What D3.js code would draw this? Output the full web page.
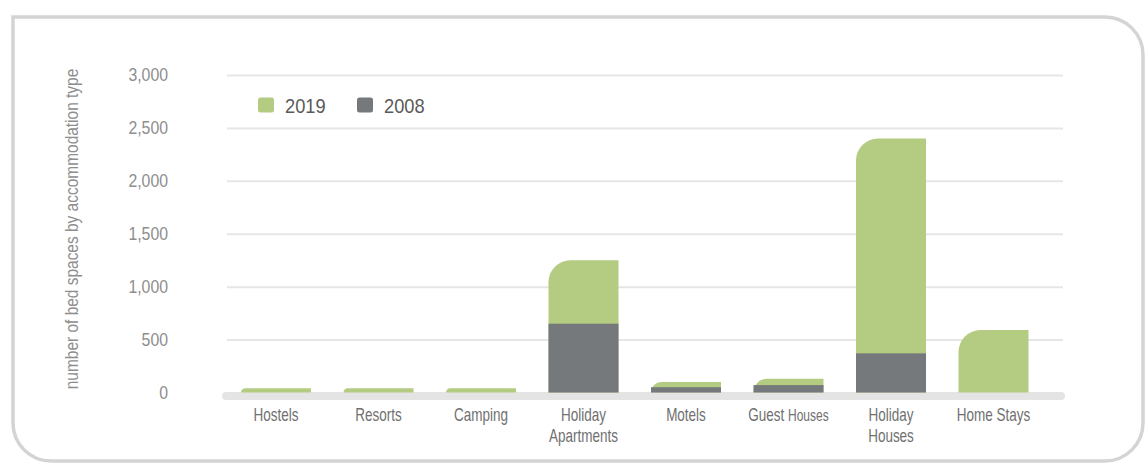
<!DOCTYPE html>
<html>
<head>
<meta charset="utf-8">
<script src="https://cdn.jsdelivr.net/npm/d3@7"></script>
<style>
  html, body { margin: 0; padding: 0; background: #fff; }
  svg { display: block; }
  text { font-family: "Liberation Sans", Arial, sans-serif; }
</style>
</head>
<body>
<svg id="chart" width="1145" height="463"></svg>
<script>
// Bed spaces by accommodation type, 2019 vs 2008
const categories = ["Hostels", "Resorts", "Camping", "Holiday Apartments", "Motels", "Guest Houses", "Holiday Houses", "Home Stays"];
const categoryLines = [["Hostels"], ["Resorts"], ["Camping"], ["Holiday", "Apartments"], ["Motels"], ["Guest Houses"], ["Holiday", "Houses"], ["Home Stays"]];
const beds2019 = [40, 40, 40, 1250, 100, 130, 2400, 590];
const beds2008 = [0, 0, 0, 650, 50, 70, 370, 0];
const seriesNames = ["2019", "2008"];
const yTicks = [0, 500, 1000, 1500, 2000, 2500, 3000];
const yTitle = "number of bed spaces by accommodation type";

const colors = { "2019": "#b4cb82", "2008": "#76797b" };

// horizontal squeeze giving the condensed lettering
const squeeze = { tick: 0.88, cat: 0.75, title: 0.86, legend: 0.87 };

const svg = d3.select("#chart");

// Frame: square top-left corner, rounded elsewhere
const fx0 = 13, fy0 = 17, fx1 = 1143, fy1 = 461, fr = 38;
svg.append("path")
  .attr("d", `M${fx0},${fy0}H${fx1 - fr}A${fr},${fr} 0 0 1 ${fx1},${fy0 + fr}V${fy1 - fr}A${fr},${fr} 0 0 1 ${fx1 - fr},${fy1}H${fx0 + fr}A${fr},${fr} 0 0 1 ${fx0},${fy1 - fr}Z`)
  .attr("fill", "none")
  .attr("stroke", "#d4d4d4")
  .attr("stroke-width", 3.5);

const plotLeft = 227, plotRight = 1063;

const x = d3.scaleBand()
  .domain(categories)
  .range([224.75, 1044.75])
  .paddingInner(0.317)
  .paddingOuter(0.1585);

const y = d3.scaleLinear()
  .domain([0, 3000])
  .range([392.5, 75]);

// Y axis with gridlines
const labelGap = 59;
const yAxis = d3.axisLeft(y)
  .tickValues(yTicks)
  .tickFormat(d3.format(","))
  .tickSizeInner(-(plotRight - plotLeft))
  .tickSizeOuter(0)
  .tickPadding(labelGap);

const gy = svg.append("g")
  .attr("transform", `translate(${plotLeft},0)`)
  .call(yAxis);
gy.select(".domain").remove();
gy.selectAll(".tick line")
  .attr("stroke", "#e6e6e6")
  .attr("stroke-width", 2)
  .attr("opacity", d => d === 0 ? 0 : 1);
gy.selectAll(".tick text")
  .attr("fill", "#8e8e8e")
  .attr("font-size", 18)
  .style("font-family", "'Liberation Sans', Arial, sans-serif")
  .attr("x", -labelGap / squeeze.tick)
  .attr("transform", `scale(${squeeze.tick},1)`);

// Baseline band
svg.append("rect")
  .attr("x", 222)
  .attr("y", y(0) - 0.5)
  .attr("width", 1065 - 222)
  .attr("height", 8)
  .attr("rx", 4)
  .attr("fill", "#e4e4e4");

// Bar with rounded top-left corner
function barPath(x0, top, w, h, r) {
  const b = top + h;
  r = Math.max(0, Math.min(r, h, w));
  if (h <= 0) return "";
  return `M${x0},${b}V${top + r}A${r},${r} 0 0 1 ${x0 + r},${top}H${x0 + w}V${b}Z`;
}

const data = categories.map((c, i) => ({ cat: c, v2019: beds2019[i], v2008: beds2008[i] }));

svg.append("g").selectAll("path")
  .data(data)
  .join("path")
  .attr("d", d => barPath(x(d.cat), y(d.v2019), x.bandwidth(), y(0) - y(d.v2019), 22))
  .attr("fill", colors["2019"]);

svg.append("g").selectAll("rect")
  .data(data.filter(d => d.v2008 > 0))
  .join("rect")
  .attr("x", d => x(d.cat))
  .attr("y", d => y(d.v2008))
  .attr("width", x.bandwidth())
  .attr("height", d => y(0) - y(d.v2008))
  .attr("fill", colors["2008"]);

// Category labels
const catG = svg.append("g");
categoryLines.forEach((lines, i) => {
  const cx = x(categories[i]) + x.bandwidth() / 2;
  const t = catG.append("g")
    .attr("transform", `translate(${cx},421) scale(${squeeze.cat},1)`)
    .append("text")
    .attr("text-anchor", "middle")
    .attr("fill", "#707070")
    .attr("font-size", 18);
  lines.forEach((ln, j) => {
    const ts = t.append("tspan").attr("x", 0).attr("dy", j === 0 ? 0 : 21);
    if (ln === "Guest Houses") {
      ts.append("tspan").text("Guest ");
      ts.append("tspan").attr("font-size", 16).text("Houses");
    } else {
      ts.text(ln);
    }
  });
});

// Y axis title
svg.append("text")
  .attr("transform", `translate(78,229) rotate(-90) scale(${squeeze.title},1)`)
  .attr("text-anchor", "middle")
  .attr("fill", "#8e8e8e")
  .attr("font-size", 18)
  .text(yTitle);

// Legend
const legendX = [258, 357];
const lg = svg.append("g");
seriesNames.forEach((s, i) => {
  lg.append("rect")
    .attr("x", legendX[i])
    .attr("y", 97.5)
    .attr("width", 16)
    .attr("height", 15)
    .attr("rx", 2.5)
    .attr("fill", colors[s]);
  lg.append("text")
    .attr("transform", `translate(${legendX[i] + 27},113) scale(${squeeze.legend},1)`)
    .attr("fill", "#5a5a5a")
    .attr("font-size", 21)
    .text(s);
});
</script>
</body>
</html>
